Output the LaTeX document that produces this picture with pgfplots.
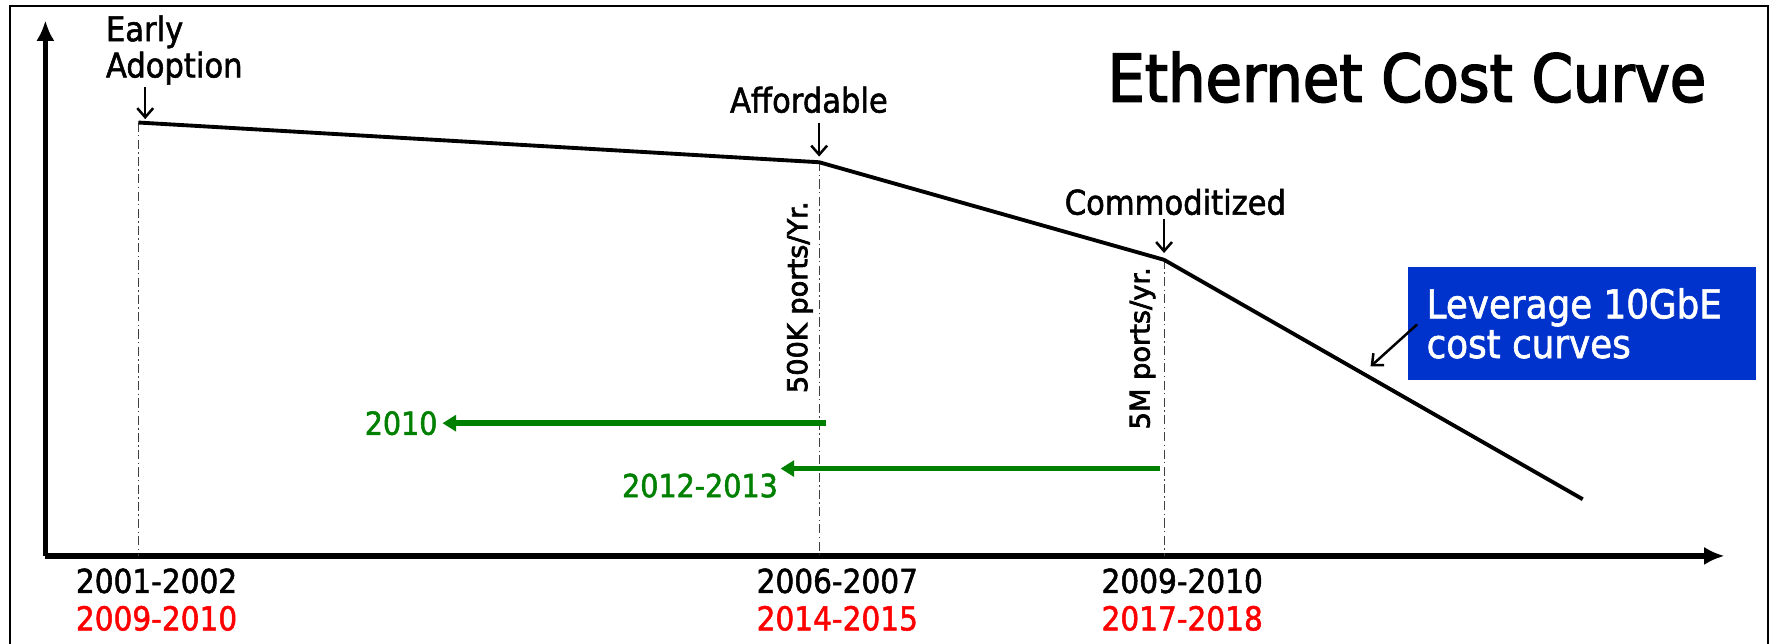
\documentclass[border=0pt]{standalone}
\usepackage{pgfplots}
\pgfplotsset{compat=1.18}
\usepackage{pgfplotstable}
\usetikzlibrary{arrows.meta}
\usepackage{fontspec}
\IfFontExistsTF{DejaVu Sans Condensed}{%
  \setmainfont[FakeBold=1.6]{DejaVu Sans Condensed}%
  \newfontfamily\titlefont[FakeBold=2.4]{DejaVu Sans Condensed}}{%
  \setmainfont[FakeBold=1.6]{DejaVu Sans}%
  \newfontfamily\titlefont[FakeBold=2.4]{DejaVu Sans}}
\newfontfamily\widefont[FakeBold=2.6]{DejaVu Sans}
\definecolor{dkgreen}{RGB}{0,128,0}
\definecolor{boxblue}{RGB}{0,51,204}

\pgfplotstableread{
x y
122 459
722 424
1026 338
1395 127
}\costcurve

\begin{document}
\begin{tikzpicture}
\begin{axis}[
  x=0.5pt, y=0.5pt,
  xmin=40, xmax=1520, ymin=77, ymax=549,
  axis lines*=left,
  axis line style={line width=2.5pt},
  x axis line style={-{Latex[length=9pt,width=8pt]}},
  y axis line style={-{Latex[length=9pt,width=8pt]}},
  xtick={122,722,1026},
  xticklabels={{2001-2002\\\textcolor{red}{2009-2010}},{2006-2007\\\textcolor{red}{2014-2015}},{2009-2010\\\textcolor{red}{2017-2018}}},
  xticklabel style={align=center, font=\fontsize{14.5}{16.5}\selectfont, xshift=8pt, yshift=-2pt},
  major tick length=0pt,
  ytick=\empty,
  clip=false,
]
% frame
\draw[line width=1pt] (axis cs:9,562) rectangle (axis cs:1558,-30);

% dashed guide lines
\addplot[black!75, line width=0.5pt, dash pattern=on 4pt off 1.5pt on 0.6pt off 1.5pt, forget plot] coordinates {(122,459) (122,77)};
\addplot[black!75, line width=0.5pt, dash pattern=on 4pt off 1.5pt on 0.6pt off 1.5pt, forget plot] coordinates {(722,424) (722,77)};
\addplot[black!75, line width=0.5pt, dash pattern=on 4pt off 1.5pt on 0.6pt off 1.5pt, forget plot] coordinates {(1026,338) (1026,77)};

% cost curve
\addplot[black, line width=1.7pt, line join=round] table {\costcurve};

% green arrows
\addplot[dkgreen, line width=2.4pt, -{Triangle[length=6pt,width=7pt]}] coordinates {(728,194) (390,194)};
\addplot[dkgreen, line width=2.4pt, -{Triangle[length=6pt,width=7pt]}] coordinates {(1022,154) (688,154)};

% annotations
\node[anchor=west, align=left, inner sep=0pt, font=\fontsize{15}{16}\selectfont] at (axis cs:93,523) {Early\\Adoption};
\draw[line width=1.1pt, -{Straight Barb[length=4pt,width=7pt]}] (axis cs:128,490) -- (axis cs:128,462);
\node[inner sep=0pt, font=\fontsize{15}{16}\selectfont] at (axis cs:713,479) {Affordable};
\draw[line width=1.1pt, -{Straight Barb[length=4pt,width=7pt]}] (axis cs:722,459) -- (axis cs:722,429);
\node[inner sep=0pt, font=\fontsize{15}{16}\selectfont] at (axis cs:1036,389) {Commoditized};
\draw[line width=1.1pt, -{Straight Barb[length=4pt,width=7pt]}] (axis cs:1026,374) -- (axis cs:1026,344);

\node[inner sep=0pt, font=\titlefont\fontsize{29}{32}\selectfont] at (axis cs:1240,499) {Ethernet Cost Curve};

\node[rotate=90, inner sep=0pt, font=\widefont\fontsize{12}{14}\selectfont] at (axis cs:705,305) {500K ports/Yr.};
\node[rotate=90, inner sep=0pt, font=\widefont\fontsize{12}{14}\selectfont] at (axis cs:1007,260) {5M ports/yr.};

\node[anchor=east, inner sep=0pt, text=dkgreen, font=\fontsize{14}{16}\selectfont] at (axis cs:386,194) {2010};
\node[anchor=east, inner sep=0pt, text=dkgreen, font=\fontsize{14}{16}\selectfont] at (axis cs:686,139) {2012-2013};

\fill[boxblue] (axis cs:1241,332) rectangle (axis cs:1548,232);
\node[anchor=west, align=left, inner sep=0pt, text=white, font=\fontsize{17.5}{17.5}\selectfont] at (axis cs:1257,282) {Leverage 10GbE\\cost curves};
\draw[line width=1.1pt, -{Straight Barb[length=4pt,width=7pt]}] (axis cs:1249,281) -- (axis cs:1208,244);

\coordinate (bbll) at (axis cs:0,0);
\coordinate (bbur) at (axis cs:1568,567);
\end{axis}
\pgfresetboundingbox
\path[use as bounding box] (bbll) rectangle (bbur);
\end{tikzpicture}
\end{document}
